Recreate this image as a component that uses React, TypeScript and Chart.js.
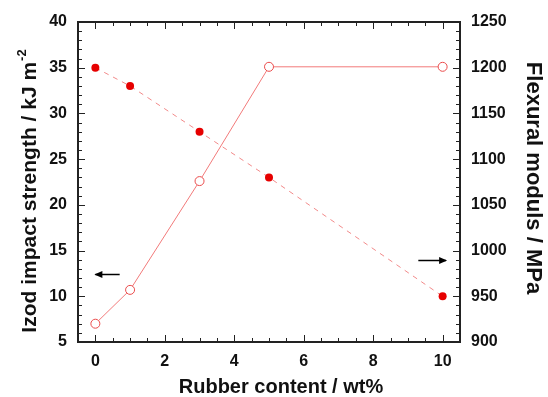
import React, { useEffect, useRef } from "react";
import { Chart, registerables } from "chart.js";

Chart.register(...registerables);

const rubberContent = [0, 1, 3, 5, 10];
const izodStrength = [7, 10.7, 22.6, 35.1, 35.1];
const flexModulus = [1200, 1180, 1130, 1080, 950];
const xTickValues = [0, 2, 4, 6, 8, 10];
const xTitle = "Rubber content / wt%";
const leftTitle = "Izod impact strength / kJ m";
const leftTitleSup = "-2";
const rightTitle = "Flexural moduls / MPa";
// arrows: [xStart, xEnd, yValue] (arrow head at xEnd)
const leftArrow = [0.7, 0.0, 12.4];
const rightArrow = [9.3, 10.1, 990];

const FONT = '"Liberation Sans", Arial, sans-serif';

const decorPlugin = {
  id: "decor",
  afterDraw(chart: any) {
    const ctx = chart.ctx;
    const { left, right, top, bottom } = chart.chartArea;
    const sx = chart.scales.x;
    const sy = chart.scales.y;
    const sy1 = chart.scales.y1;
    ctx.save();
    ctx.strokeStyle = "#222";
    ctx.lineWidth = 1;
    // x ticks bottom & top
    for (let v = 0; v <= 10.001; v += 0.5) {
      const px = Math.round(sx.getPixelForValue(v)) + 0.5;
      const major = Math.abs(v / 2 - Math.round(v / 2)) < 1e-6;
      const len = major ? 7 : 4;
      ctx.beginPath();
      ctx.moveTo(px, bottom);
      ctx.lineTo(px, bottom - len);
      ctx.moveTo(px, top);
      ctx.lineTo(px, top + len);
      ctx.stroke();
    }
    // left ticks
    for (let v = 6; v < 40; v += 1) {
      const py = Math.round(sy.getPixelForValue(v)) + 0.5;
      const len = v % 5 === 0 ? 7 : 4;
      ctx.beginPath();
      ctx.moveTo(left, py);
      ctx.lineTo(left + len, py);
      ctx.stroke();
    }
    // right ticks
    for (let v = 910; v < 1250; v += 10) {
      const py = Math.round(sy1.getPixelForValue(v)) + 0.5;
      const len = v % 50 === 0 ? 7 : 4;
      ctx.beginPath();
      ctx.moveTo(right, py);
      ctx.lineTo(right - len, py);
      ctx.stroke();
    }
    // frame
    ctx.lineWidth = 2;
    ctx.strokeStyle = "#222";
    ctx.strokeRect(left, top, right - left, bottom - top);

    // arrows
    const drawArrow = (x0: number, x1: number, y: number) => {
      ctx.strokeStyle = "#000";
      ctx.fillStyle = "#000";
      ctx.lineWidth = 1.5;
      ctx.beginPath();
      ctx.moveTo(x0, y);
      ctx.lineTo(x1, y);
      ctx.stroke();
      const dir = x1 > x0 ? 1 : -1;
      ctx.beginPath();
      ctx.moveTo(x1 + dir * 1, y);
      ctx.lineTo(x1 - dir * 7, y - 3.5);
      ctx.lineTo(x1 - dir * 7, y + 3.5);
      ctx.closePath();
      ctx.fill();
    };
    drawArrow(
      sx.getPixelForValue(leftArrow[0]),
      sx.getPixelForValue(leftArrow[1]),
      Math.round(sy.getPixelForValue(leftArrow[2])) + 0.5
    );
    drawArrow(
      sx.getPixelForValue(rightArrow[0]),
      sx.getPixelForValue(rightArrow[1]),
      Math.round(sy1.getPixelForValue(rightArrow[2])) + 0.5
    );

    // titles
    ctx.fillStyle = "#111";
    ctx.font = `bold 20px ${FONT}`;
    ctx.textAlign = "center";
    ctx.textBaseline = "alphabetic";
    ctx.fillText(xTitle, 281, 393);

    // left title with superscript
    ctx.save();
    ctx.translate(36, 191);
    ctx.rotate(-Math.PI / 2);
    ctx.font = `bold 21px ${FONT}`;
    const w1 = ctx.measureText(leftTitle).width;
    ctx.font = `bold 13px ${FONT}`;
    const w2 = ctx.measureText(leftTitleSup).width;
    const total = w1 + w2 + 1;
    ctx.textAlign = "left";
    ctx.font = `bold 21px ${FONT}`;
    ctx.fillText(leftTitle, -total / 2, 0);
    ctx.font = `bold 13px ${FONT}`;
    ctx.fillText(leftTitleSup, -total / 2 + w1 + 1, -10);
    ctx.restore();

    // right title
    ctx.save();
    ctx.translate(527, 178);
    ctx.rotate(Math.PI / 2);
    ctx.font = `bold 22px ${FONT}`;
    ctx.textAlign = "center";
    ctx.fillText(rightTitle, 0, 0);
    ctx.restore();

    ctx.restore();
  },
};

export default function App() {
  const ref = useRef<HTMLCanvasElement | null>(null);
  useEffect(() => {
    if (!ref.current) return;
    const tickFont = { family: FONT, size: 16, weight: "bold" as const };
    const fmt = (v: any) => String(v);
    const chart = new Chart(ref.current, {
      type: "line",
      data: {
        datasets: [
          {
            label: "Izod",
            data: rubberContent.map((x, i) => ({ x, y: izodStrength[i] })),
            yAxisID: "y",
            borderColor: "#f27a7a",
            borderWidth: 1,
            pointRadius: 4.5,
            pointBackgroundColor: "#ffffff",
            pointBorderColor: "#ea4b4b",
            pointBorderWidth: 1,
            tension: 0,
          },
          {
            label: "Modulus",
            data: rubberContent.map((x, i) => ({ x, y: flexModulus[i] })),
            yAxisID: "y1",
            borderColor: "#f28a8a",
            borderWidth: 1,
            borderDash: [5, 5],
            pointRadius: 4,
            pointBackgroundColor: "#e60000",
            pointBorderColor: "#e60000",
            pointBorderWidth: 0,
            tension: 0,
          },
        ],
      },
      options: {
        animation: false,
        responsive: true,
        maintainAspectRatio: false,
        layout: { padding: { top: 22, left: 0, right: 0, bottom: 0 } },
        plugins: {
          legend: { display: false },
          tooltip: { enabled: false },
        },
        scales: {
          x: {
            type: "linear",
            min: -0.5,
            max: 10.5,
            afterBuildTicks: (s: any) => {
              s.ticks = xTickValues.map((v) => ({ value: v }));
            },
            afterFit: (s: any) => {
              s.height = 55;
            },
            grid: { display: false, drawTicks: false },
            border: { display: false },
            ticks: { font: tickFont, color: "#111", padding: 10, maxRotation: 0, callback: fmt },
          },
          y: {
            type: "linear",
            position: "left",
            min: 5,
            max: 40,
            afterFit: (s: any) => {
              s.width = 78;
            },
            grid: { display: false, drawTicks: false },
            border: { display: false },
            ticks: { stepSize: 5, font: tickFont, color: "#111", padding: 11, callback: fmt },
          },
          y1: {
            type: "linear",
            position: "right",
            min: 900,
            max: 1250,
            afterFit: (s: any) => {
              s.width = 88;
            },
            grid: { display: false, drawTicks: false },
            border: { display: false },
            ticks: { stepSize: 50, font: tickFont, color: "#111", padding: 11, callback: fmt },
          },
        },
      },
      plugins: [decorPlugin],
    });
    return () => chart.destroy();
  }, []);
  return (
    <div style={{ position: "absolute", left: 0, top: 0, width: 548, height: 397, background: "#fff" }}>
      <canvas ref={ref} />
    </div>
  );
}
